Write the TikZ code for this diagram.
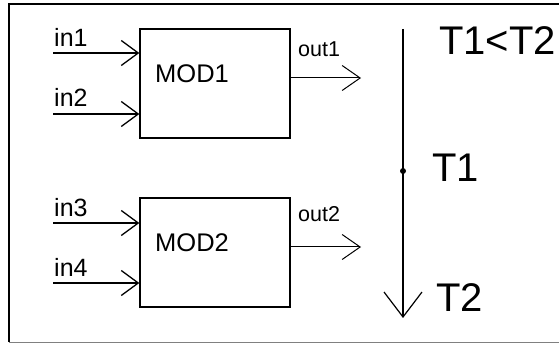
\documentclass[tikz,border=0pt]{standalone}
\usepackage{fontspec}
\setmainfont{Liberation Sans}
\usetikzlibrary{arrows.meta}
\begin{document}
\begin{tikzpicture}[x=1pt,y=-1pt,
  modbox/.style={draw,line width=1.3pt,minimum width=150pt,minimum height=109pt,inner sep=0pt},
  wire/.style={line width=1.3pt},
  intip/.style={wire,-{Straight Barb[length=17pt,width=25pt,line width=1.3pt]}},
  outtip/.style={line width=1pt,-{Straight Barb[length=18pt,width=25pt,line width=1pt]}},
  bigtip/.style={line width=1.2pt,-{Straight Barb[length=25pt,width=38pt,line width=1.2pt]}},
  lblsmall/.style={inner sep=0pt,anchor=base west,font=\fontsize{25pt}{28pt}\selectfont},
  lblout/.style={inner sep=0pt,anchor=base west,font=\fontsize{21.5pt}{25pt}\selectfont},
  lblmod/.style={inner sep=0pt,anchor=base west,font=\fontsize{25.5pt}{30pt}\selectfont},
  lblbig/.style={inner sep=0pt,anchor=base west,font=\fontsize{40pt}{46pt}\selectfont}]
\useasboundingbox (0,0) rectangle (559,344);
% frame
\coordinate (fr1) at (570,4);
\coordinate (fr2) at (9,4);
\coordinate (fr3) at (9,342);
\coordinate (fr4) at (570,342);
\draw[line width=2pt] (fr1) -- (fr2) -- (fr3);
\draw[line width=1pt,gray] (fr3) -- (fr4);
% modules
\node[modbox] (m1) at (215,83.5) {};
\node[modbox] (m2) at (215,252.5) {};
\node[lblmod] (t1) at (155,83) {MOD1};
\node[lblmod] (t2) at (155,252) {MOD2};
% inputs
\coordinate (a1) at (53,53);
\coordinate (a2) at (53,114);
\coordinate (a3) at (53,223);
\coordinate (a4) at (53,283);
\draw[intip] (a1) -- (a1 -| m1.west);
\draw[intip] (a2) -- (a2 -| m1.west);
\draw[intip] (a3) -- (a3 -| m2.west);
\draw[intip] (a4) -- (a4 -| m2.west);
\node[lblsmall] (l1) at (54,46.5) {in1};
\node[lblsmall] (l2) at (54,107) {in2};
\node[lblsmall] (l3) at (54,217) {in3};
\node[lblsmall] (l4) at (54,277) {in4};
% outputs
\coordinate (o1) at (361,78);
\coordinate (o2) at (361,247);
\draw[outtip] (o1 -| m1.east) -- (o1);
\draw[outtip] (o2 -| m2.east) -- (o2);
\node[lblout] (lo1) at (298,56.5) {out1};
\node[lblout] (lo2) at (298,222) {out2};
% time axis
\coordinate (ts) at (403,29);
\coordinate (te) at (403,318);
\coordinate (tm) at (403,171);
\draw[bigtip] (ts) -- (te);
\fill (tm) circle (3pt);
\node[lblbig] (tt) at (439,55) {T1<T2};
\node[lblbig] (tt1) at (432,182) {T1};
\node[lblbig] (tt2) at (436,312) {T2};
\end{tikzpicture}
\end{document}
